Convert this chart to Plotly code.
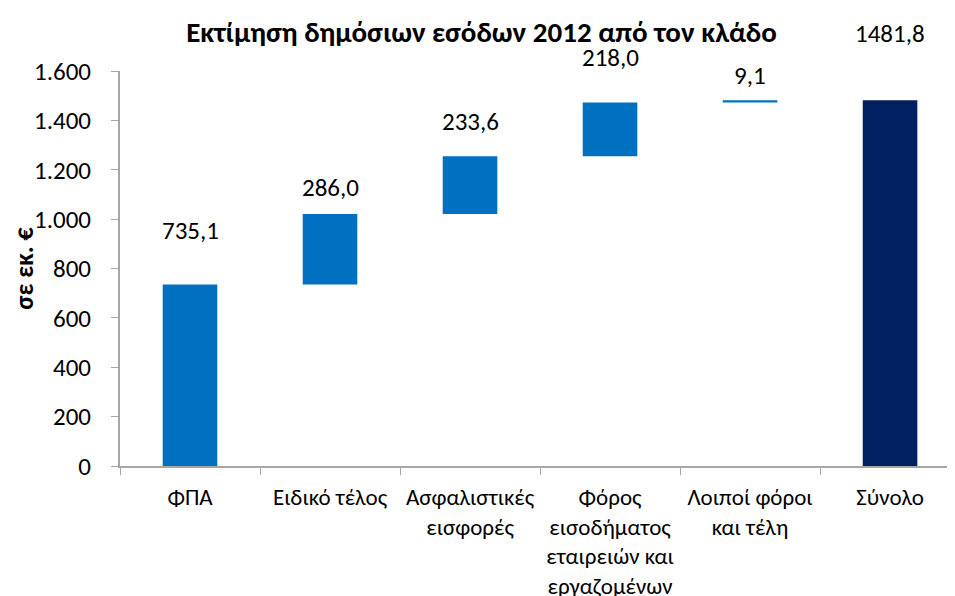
import plotly.graph_objects as go

# categories and values (σε εκ. €)
categories = ["ΦΠΑ", "Ειδικό τέλος", "Ασφαλιστικές<br>εισφορές",
              "Φόρος<br>εισοδήματος<br>εταιρειών και<br>εργαζομένων",
              "Λοιποί φόροι<br>και τέλη", "Σύνολο"]
values = [735.1, 286.0, 233.6, 218.0, 9.1]
total = 1481.8
measures = ["relative"] * 5 + ["total"]

# pixel distance of each value label above its bar top
label_shift = [54, 26, 35, 45, 25, 67]

font_family = "Carlito, Open Sans, sans-serif"

fig = go.Figure(go.Waterfall(
    x=categories,
    y=values + [0],
    measure=measures,
    width=0.39,
    connector=dict(visible=False),
    increasing=dict(marker=dict(color="#0070C0")),
    totals=dict(marker=dict(color="#002060")),
    hoverinfo="skip",
))

# value labels
tops = []
run = 0
for v in values:
    run += v
    tops.append(run)
tops.append(total)
labels = [f"{v:.1f}".replace(".", ",") for v in values] + [f"{total:.1f}".replace(".", ",")]
for cat, top, txt, sh in zip(categories, tops, labels, label_shift):
    fig.add_annotation(x=cat, y=top, text=txt, showarrow=False,
                       yanchor="middle", yshift=sh,
                       font=dict(size=25, color="#000000", family=font_family))

# page body has an 8px margin, so the figure is 8px smaller each way
fig.update_layout(
    width=947, height=588,
    margin=dict(l=112, r=0, t=63, b=130),
    paper_bgcolor="white", plot_bgcolor="white",
    separators=",.",
    showlegend=False,
    font=dict(family=font_family, size=25, color="#000000"),
    title=dict(text="<b>Εκτίμηση δημόσιων εσόδων 2012 από τον κλάδο</b>",
               x=0.5, xanchor="center", y=0.959, yanchor="middle",
               font=dict(size=29, family=font_family)),
)
fig.update_xaxes(
    range=[-0.5, 5.464], tickson="boundaries", ticks="outside", ticklen=7,
    tickcolor="#A6A6A6", showline=True, linecolor="#A6A6A6", linewidth=2,
    showgrid=False, tickangle=0, tickfont=dict(size=23), automargin=False,
    ticklabelstandoff=9,
)
fig.update_yaxes(
    range=[0, 1600], dtick=200, tickformat=",d", ticks="outside", ticklen=7,
    tickcolor="#A6A6A6", showline=True, linecolor="#A6A6A6", linewidth=2,
    showgrid=False, zeroline=False, tickfont=dict(size=25), ticklabelstandoff=15,
    automargin=False,
    title=dict(text="<b>σε εκ. €</b>", font=dict(size=26), standoff=25),
)

fig.write_html("out.html")
